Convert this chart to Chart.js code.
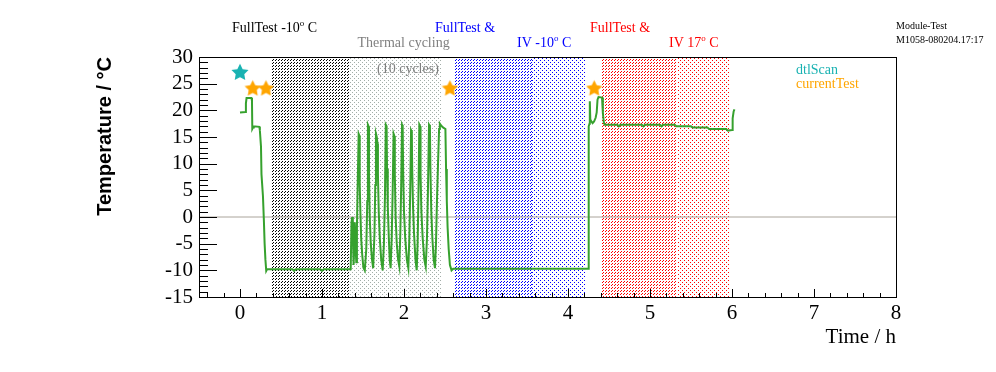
<!DOCTYPE html>
<html>
<head>
<meta charset="utf-8">
<title>Module-Test M1058 temperature</title>
<script src="https://cdn.jsdelivr.net/npm/chart.js@4.4.1/dist/chart.umd.min.js"></script>
<style>
  html, body { margin: 0; padding: 0; background: #fff; }
  #wrap { width: 996px; height: 372px; }
</style>
</head>
<body>
<div id="wrap"><canvas id="tempChart" width="996" height="372"></canvas></div>
<script>
// temperature log: time in hours, temperature in degC
const timeH = [
  0.000, 0.068, 0.072, 0.080, 0.140, 0.146, 0.150, 0.160, 0.168, 0.236, 0.242, 0.256, 0.262, 0.280, 0.292, 0.300, 0.310, 0.320, 0.330,
  0.640, 0.660, 0.680, 0.980, 1.000, 1.020, 1.350,
  1.360, 1.368, 1.376, 1.385, 1.393, 1.400, 1.408, 1.418, 1.426, 1.434,
  1.447, 1.455, 1.460, 1.468, 1.478, 1.490, 1.505, 1.522,
  1.540, 1.552, 1.560, 1.568, 1.573, 1.582, 1.595, 1.610, 1.624,
  1.640, 1.650, 1.658, 1.668, 1.676, 1.682, 1.692, 1.705, 1.722, 1.740,
  1.755, 1.768, 1.778, 1.788, 1.793, 1.802, 1.815, 1.826, 1.837,
  1.850, 1.862, 1.873, 1.882, 1.888, 1.898, 1.912, 1.928, 1.943,
  1.955, 1.966, 1.976, 1.984, 1.990, 2.000, 2.015, 2.035, 2.053,
  2.065, 2.076, 2.086, 2.095, 2.100, 2.110, 2.122, 2.140, 2.155,
  2.166, 2.176, 2.187, 2.196, 2.202, 2.212, 2.228, 2.248, 2.265,
  2.280, 2.292, 2.305, 2.316, 2.322, 2.333, 2.346, 2.362, 2.378,
  2.390, 2.402, 2.415, 2.428, 2.437, 2.450, 2.475, 2.505, 2.513, 2.522, 2.532, 2.545, 2.560, 2.580, 2.600,
  4.246, 4.250, 4.255, 4.262, 4.266, 4.272, 4.285, 4.300, 4.318, 4.337, 4.350, 4.360, 4.372, 4.415, 4.425, 4.438, 4.450,
  4.600, 4.620, 4.640, 4.900, 4.920, 4.940, 5.120, 5.140, 5.160, 5.300, 5.320, 5.500, 5.520, 5.700, 5.720, 5.930, 5.950,
  6.000, 6.008, 6.020, 6.030
];
const tempC = [
  19.6, 19.7, 21.3, 22.3, 22.3, 21.8, 16.5, 16.8, 17.0, 16.9, 16.3, 13.2, 8.0, 3.9, -1.0, -4.9, -8.0, -10.1, -9.8,
  -9.8, -10.1, -9.8, -9.8, -10.1, -9.8, -9.8,
  -1.0, 0.0, -3.0, -9.0, -6.0, -1.0, -5.0, -8.5, -2.0, 5.0,
  15.6, 15.3, 6.0, 1.0, -4.0, -7.0, -9.5, -10.0,
  -6.0, 3.0, 17.3, 17.0, 8.0, 0.0, -5.0, -8.0, -9.6,
  -3.0, 6.0, 15.6, 15.0, 13.8, 8.0, 1.0, -4.0, -8.0, -10.0,
  -5.0, 4.0, 17.3, 17.0, 9.0, 2.0, -4.0, -8.0, -9.6,
  -4.0, 5.0, 15.6, 15.2, 8.0, 0.0, -5.0, -8.0, -9.3,
  -3.0, 6.0, 17.3, 17.0, 8.0, 1.0, -4.0, -8.0, -9.6,
  -4.0, 5.0, 16.3, 16.0, 9.0, 2.0, -3.0, -8.0, -10.0,
  -5.0, 4.0, 17.3, 17.0, 8.0, 1.0, -4.0, -8.0, -9.3,
  -4.0, 5.0, 17.3, 17.0, 9.0, 1.0, -4.0, -8.0, -9.6,
  -5.0, 3.0, 10.0, 16.5, 17.5, 17.2, 16.8, 16.5, 9.0, 3.0, -2.0, -6.0, -9.0, -10.0, -9.7,
  -9.7, 5.0, 17.0, 17.5, 21.7, 18.3, 17.9, 17.6, 17.9, 18.6, 19.6, 22.0, 22.5, 22.4, 19.5, 17.6, 17.3,
  17.3, 17.0, 17.3, 17.3, 17.0, 17.3, 17.3, 17.0, 17.3, 17.3, 17.0, 17.0, 16.8, 16.8, 16.5, 16.5, 16.2,
  16.3, 18.5, 19.8, 20.2
];

// test markers
const dtlScanTime = [0.0];
const dtlScanTemp = [27.2];
const currentTestTime = [0.155, 0.317, 2.56, 4.32];
const currentTestTemp = [24.2, 24.2, 24.2, 24.2];

// test phases (hours): FullTest -10, thermal cycling, FullTest & IV -10, FullTest & IV 17
const phaseStart = [0.386, 1.341, 2.612, 3.557, 4.402, 5.325];
const phaseEnd = [1.341, 2.451, 3.557, 4.207, 5.325, 5.959];

const zeroLineX = [-0.5, 8];
const zeroLineY = [0, 0];

const xTicks = [0, 1, 2, 3, 4, 5, 6, 7, 8];
const yTicks = [-15, -10, -5, 0, 5, 10, 15, 20, 25, 30];

const SERIF = '"Liberation Serif", "Times New Roman", serif';

function starImage(color, size) {
    const c = document.createElement('canvas');
    c.width = c.height = size;
    const g = c.getContext('2d');
    const cx = size / 2, cy = size / 2 + 0.8, R = size / 2, r = R * 0.5;
    g.beginPath();
    for (let i = 0; i < 10; i++) {
        const rad = i % 2 ? r : R;
        const ang = -Math.PI / 2 + i * Math.PI / 5;
        g.lineTo(cx + rad * Math.cos(ang), cy + rad * Math.sin(ang));
    }
    g.closePath();
    g.fillStyle = color;
    g.fill();
    return c;
}

function patternTile(color, n, pixels) {
    const c = document.createElement('canvas');
    c.width = c.height = n;
    const g = c.getContext('2d');
    g.fillStyle = color;
    pixels.forEach(p => g.fillRect(p[0], p[1], 1, 1));
    return c;
}

// dashed "/" hatch and sparse dots, like ROOT fill styles
const hatchPx = [[2, 0], [0, 2]];
const dotPx = [[0, 0], [2, 2]];
const phaseTiles = [
    patternTile('#000000', 3, hatchPx),
    patternTile('#a2ada8', 4, dotPx),
    patternTile('#0000ff', 3, hatchPx),
    patternTile('#0000ff', 4, dotPx),
    patternTile('#ff0000', 3, hatchPx),
    patternTile('#ff0000', 4, dotPx)
];

const phasePlugin = {
    id: 'phases',
    beforeDatasetsDraw(chart) {
        const { ctx, chartArea: a, scales: { x } } = chart;
        ctx.save();
        phaseStart.forEach((s, i) => {
            const x0 = Math.round(x.getPixelForValue(s));
            const x1 = Math.round(x.getPixelForValue(phaseEnd[i]));
            ctx.fillStyle = ctx.createPattern(phaseTiles[i], 'repeat');
            ctx.fillRect(x0, a.top, x1 - x0, a.bottom - a.top);
        });
        ctx.restore();
    }
};

// ROOT-style frame with ticks pointing inward
const framePlugin = {
    id: 'frame',
    afterDatasetsDraw(chart) {
        const { ctx, chartArea: a, scales: { x, y } } = chart;
        ctx.save();
        ctx.strokeStyle = '#000';
        ctx.lineWidth = 1;
        ctx.strokeRect(a.left + 0.5, a.top + 0.5, a.right - a.left, a.bottom - a.top);
        ctx.beginPath();
        for (let v = -15; v <= 30; v++) {
            const len = v % 5 === 0 ? 18 : 9;
            const py = Math.round(y.getPixelForValue(v)) + 0.5;
            ctx.moveTo(a.left, py);
            ctx.lineTo(a.left + len, py);
        }
        for (let k = -2; k <= 40; k++) {
            const len = k % 5 === 0 ? 8 : 4;
            const px = Math.round(x.getPixelForValue(k / 5)) + 0.5;
            ctx.moveTo(px, a.bottom);
            ctx.lineTo(px, a.bottom - len);
        }
        ctx.stroke();
        ctx.restore();
    }
};

function drawRich(ctx, x, y, parts, color, size) {
    ctx.fillStyle = color;
    ctx.textBaseline = 'middle';
    ctx.textAlign = 'left';
    parts.forEach(p => {
        const sup = typeof p !== 'string';
        const s = sup ? p.sup : p;
        ctx.font = (sup ? Math.round(size * 0.62) : size) + 'px ' + SERIF;
        ctx.fillText(s, x, sup ? y - size * 0.33 : y);
        x += ctx.measureText(s).width;
    });
}

const labelPlugin = {
    id: 'labels',
    afterDraw(chart) {
        const ctx = chart.ctx;
        ctx.save();
        drawRich(ctx, 232, 28.5, ['FullTest -10', { sup: 'o' }, ' C'], '#000000', 14);
        drawRich(ctx, 357.5, 43.5, ['Thermal cycling'], '#808080', 14);
        drawRich(ctx, 377, 69.5, ['(10 cycles)'], '#808080', 14);
        drawRich(ctx, 435, 28.5, ['FullTest &'], '#0000ff', 14);
        drawRich(ctx, 517, 43.5, ['IV -10', { sup: 'o' }, ' C'], '#0000ff', 14);
        drawRich(ctx, 590, 28.5, ['FullTest &'], '#ff0000', 14);
        drawRich(ctx, 669, 43.5, ['IV 17', { sup: 'o' }, ' C'], '#ff0000', 14);
        drawRich(ctx, 796, 70, ['dtlScan'], '#19b2b2', 14);
        drawRich(ctx, 796, 84.5, ['currentTest'], '#ffa500', 14);
        drawRich(ctx, 896, 26, ['Module-Test'], '#000000', 10);
        drawRich(ctx, 896, 40.5, ['M1058-080204.17:17'], '#000000', 10);
        ctx.restore();
    }
};

const toXY = (xs, ys) => xs.map((v, i) => ({ x: v, y: ys[i] }));

new Chart(document.getElementById('tempChart'), {
    type: 'line',
    data: {
        datasets: [
            {
                type: 'scatter', label: 'dtlScan', order: 0,
                data: toXY(dtlScanTime, dtlScanTemp),
                pointStyle: starImage('#19b2b2', 18), pointRadius: 9
            },
            {
                type: 'scatter', label: 'currentTest', order: 0,
                data: toXY(currentTestTime, currentTestTemp),
                pointStyle: starImage('#ffa500', 17), pointRadius: 8
            },
            {
                label: 'Temperature', order: 1,
                data: toXY(timeH, tempC),
                borderColor: '#36a12e', borderWidth: 2,
                pointRadius: 0, tension: 0, fill: false
            },
            {
                label: 'zero', order: 2,
                data: toXY(zeroLineX, zeroLineY),
                borderColor: '#aaa49b', borderWidth: 1,
                pointRadius: 0, fill: false
            }
        ]
    },
    options: {
        responsive: false,
        animation: false,
        events: [],
        layout: { padding: { top: 57, right: 100, bottom: 0, left: 0 } },
        plugins: { legend: { display: false }, tooltip: { enabled: false } },
        scales: {
            x: {
                type: 'linear', min: -0.5, max: 8,
                afterBuildTicks: s => { s.ticks = xTicks.map(v => ({ value: v })); },
                afterFit: s => { s.height = 75; },
                grid: { display: false, drawTicks: false },
                border: { display: false },
                ticks: { font: { family: SERIF, size: 21 }, color: '#000', padding: 4, maxRotation: 0, autoSkip: false },
                title: {
                    display: true, text: 'Time / h', align: 'end', color: '#000',
                    font: { family: SERIF, size: 21 }, padding: { top: 0, bottom: 22 }
                }
            },
            y: {
                type: 'linear', min: -15, max: 30,
                afterBuildTicks: s => { s.ticks = yTicks.map(v => ({ value: v })); },
                afterFit: s => { s.width = 199; },
                grid: { display: false, drawTicks: false },
                border: { display: false },
                ticks: { font: { family: SERIF, size: 21 }, color: '#000', padding: 6, autoSkip: false },
                title: {
                    display: true, text: 'Temperature / °C', align: 'end', color: '#000',
                    font: { family: '"Liberation Sans", Arial, sans-serif', size: 20, weight: 'bold' },
                    padding: { top: 93, bottom: 0 }
                }
            }
        }
    },
    plugins: [phasePlugin, framePlugin, labelPlugin]
});
</script>
</body>
</html>
